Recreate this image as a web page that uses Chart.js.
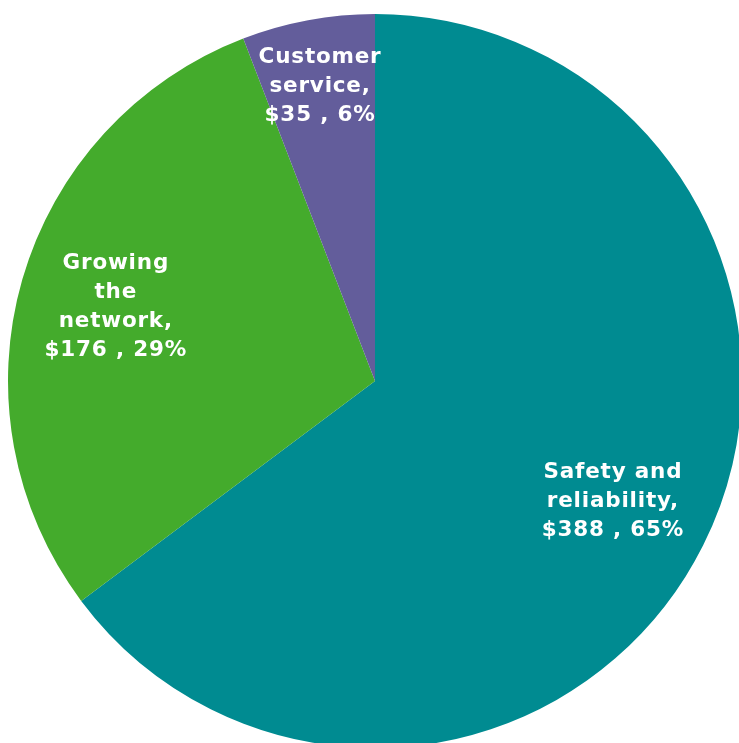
<!DOCTYPE html>
<html>
<head>
<meta charset="utf-8">
<title>Spending by category</title>
<script src="https://cdn.jsdelivr.net/npm/chart.js@4.4.1/dist/chart.umd.min.js"></script>
<style>
  html, body { margin: 0; padding: 0; background: #ffffff; overflow: hidden; }
  #wrap { position: absolute; left: 0; top: 0; width: 750px; height: 762px; }
</style>
</head>
<body>
<div id="wrap"><canvas id="pie" width="750" height="762"></canvas></div>
<script>
// Spending categories ($) and their slice colours
const categories = ['Safety and reliability', 'Growing the network', 'Customer service'];
const values = [388, 176, 35];
const colors = ['#008b91', '#44ab2c', '#635d9b'];

// How each category name is broken across lines inside its slice
const nameLines = [
  ['Safety and', 'reliability,'],
  ['Growing', 'the', 'network,'],
  ['Customer', 'service,']
];
// Distance of each label from the centre, as a share of the radius
const labelRadius = [0.725, 0.735, 0.82];

const total = values.reduce((a, b) => a + b, 0);

const sliceLabels = {
  id: 'sliceLabels',
  afterDatasetsDraw(chart) {
    const ctx = chart.ctx;
    const meta = chart.getDatasetMeta(0);
    ctx.save();
    ctx.fillStyle = '#ffffff';
    ctx.font = 'bold 21.5px "DejaVu Sans", Verdana, sans-serif';
    if ('letterSpacing' in ctx) ctx.letterSpacing = '0.8px';
    ctx.textAlign = 'center';
    ctx.textBaseline = 'middle';
    const lineH = 29;
    meta.data.forEach((arc, i) => {
      const p = arc.getProps(['x', 'y', 'startAngle', 'endAngle', 'outerRadius'], true);
      const mid = (p.startAngle + p.endAngle) / 2;
      const r = p.outerRadius * labelRadius[i];
      const cx = p.x + Math.cos(mid) * r;
      const cy = p.y + Math.sin(mid) * r + 1;
      const pct = Math.round(values[i] / total * 100);
      const lines = nameLines[i].concat(['$' + values[i] + ' , ' + pct + '%']);
      const top = cy - (lines.length - 1) * lineH / 2;
      lines.forEach((t, k) => ctx.fillText(t, cx, top + k * lineH));
    });
    ctx.restore();
  }
};

new Chart(document.getElementById('pie'), {
  type: 'pie',
  data: {
    labels: categories,
    datasets: [{
      data: values,
      backgroundColor: colors,
      borderWidth: 0
    }]
  },
  options: {
    responsive: false,
    animation: false,
    devicePixelRatio: 1,
    layout: { padding: 8 },
    plugins: {
      legend: { display: false },
      tooltip: { enabled: false }
    }
  },
  plugins: [sliceLabels]
});
</script>
</body>
</html>
